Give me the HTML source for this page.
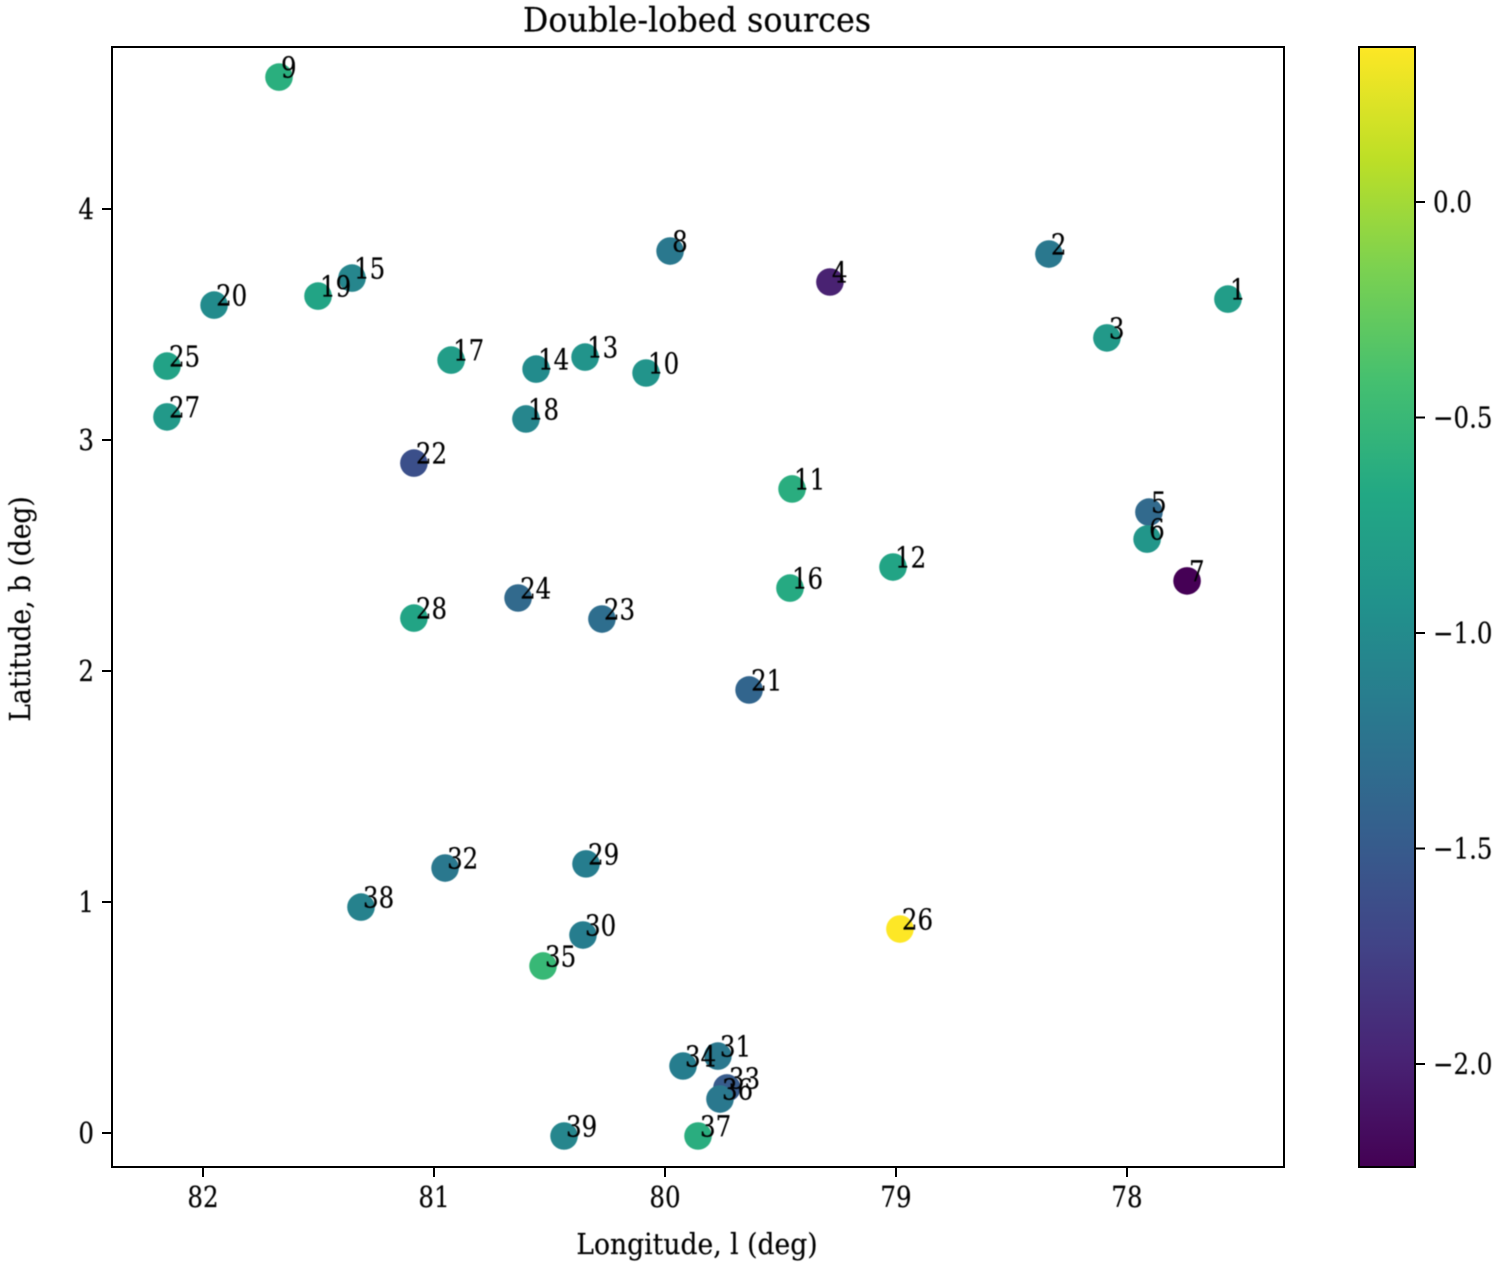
<!DOCTYPE html>
<html lang="en">
<head>
<meta charset="utf-8">
<title>Double-lobed sources</title>
<style>
html,body{margin:0;padding:0;background:#fff;}
svg{display:block;}
text{font-family:"DejaVu Serif","Liberation Serif",serif;fill:#000;stroke:#000;stroke-width:0.15;}
</style>
</head>
<body>
<svg id="chart" xmlns="http://www.w3.org/2000/svg" width="1500" height="1267" viewBox="0 0 1500 1267">
  <defs>
    <linearGradient id="viridis-gradient" x1="0" y1="1" x2="0" y2="0"></linearGradient>
    <filter id="soft" x="-5%" y="-5%" width="110%" height="110%"><feGaussianBlur stdDeviation="0.45"/></filter>
  </defs>
  <rect width="1500" height="1267" fill="#fff"/>
  <text font-size="31.8" text-anchor="middle" transform="translate(697,31.5) scale(1,1.05)" filter="url(#soft)">Double-lobed sources</text>
  <text font-size="26.6" text-anchor="middle" transform="translate(697,1254) scale(1,1.08)" filter="url(#soft)">Longitude, l (deg)</text>
  <text font-size="26.5" text-anchor="middle" transform="translate(30,609) rotate(-90) scale(1,1.08)" filter="url(#soft)">Latitude, b (deg)</text>
  <g id="marks" filter="url(#soft)"></g>
  <g id="labels" filter="url(#soft)"></g>
  <rect x="112" y="47" width="1172" height="1120" fill="none" stroke="#000" stroke-width="2"/>
  <g id="x-axis"></g>
  <g id="y-axis"></g>
  <rect x="1359" y="47" width="56" height="1120" fill="url(#viridis-gradient)" stroke="#000" stroke-width="2"/>
  <g id="colorbar-axis"></g>
</svg>
<script>
const sourceIds = [1,2,3,4,5,6,7,8,9,10,11,12,13,14,15,16,17,18,19,20,21,22,23,24,25,26,27,28,29,30,31,32,33,34,35,36,37,38,39];
const longitudes = [77.563,78.338,78.087,79.286,77.905,77.913,77.74,79.978,81.671,80.082,79.45,79.013,80.346,80.558,81.355,79.459,80.926,80.602,81.502,81.952,79.636,81.087,80.273,80.636,82.156,78.983,82.156,81.087,80.342,80.355,79.771,80.952,79.732,79.922,80.528,79.762,79.857,81.316,80.437];
const latitudes = [3.61,3.805,3.442,3.684,2.688,2.571,2.39,3.818,4.571,3.29,2.788,2.45,3.359,3.307,3.701,2.359,3.346,3.091,3.623,3.584,1.918,2.9,2.225,2.316,3.32,0.883,3.1,2.229,1.165,0.857,0.333,1.147,0.195,0.29,0.723,0.147,-0.013,0.978,-0.013];
const spectralIndex = [-0.8,-1.2,-0.85,-2.0,-1.35,-0.88,-2.24,-1.2,-0.6,-0.9,-0.62,-0.72,-0.9,-1.0,-1.05,-0.66,-0.8,-1.05,-0.72,-1.0,-1.4,-1.6,-1.3,-1.35,-0.75,0.36,-0.85,-0.72,-1.15,-1.15,-1.2,-1.2,-1.5,-1.15,-0.5,-1.2,-0.62,-1.1,-1.05];
const xTicks = [82,81,80,79,78];
const yTicks = [0,1,2,3,4];
const colorTicks = [0.0,-0.5,-1.0,-1.5,-2.0];
const colorMin = -2.239;
const colorMax = 0.36;
const viridisStops = ['#440154','#482475','#414487','#355f8d','#2a788e','#21918c','#22a884','#44bf70','#7ad151','#bddf26','#fde725'];

const NS = 'http://www.w3.org/2000/svg';
const STRETCH = ' scale(1,1.17)';
function xScale(lon){ return 203 + (82 - lon) * 231; }
function yScale(lat){ return 1133 - lat * 231; }
function cScale(v){ return 202 - v * 431; }
function hexToRgb(h){ return [1,3,5].map(i => parseInt(h.slice(i,i+2),16)); }
function colorFor(v){
  const t = Math.max(0, Math.min(1, (v - colorMin) / (colorMax - colorMin))) * (viridisStops.length - 1);
  const i = Math.min(Math.floor(t), viridisStops.length - 2);
  const a = hexToRgb(viridisStops[i]);
  const b = hexToRgb(viridisStops[i + 1]);
  const f = t - i;
  const c = a.map((p, k) => Math.round(p + (b[k] - p) * f));
  return 'rgb(' + c.join(',') + ')';
}
function make(tag, attrs, parent, txt){
  const el = document.createElementNS(NS, tag);
  for (const k in attrs) el.setAttribute(k, attrs[k]);
  if (txt !== undefined) el.textContent = txt;
  parent.appendChild(el);
  return el;
}
function at(x, y){ return 'translate(' + x + ',' + y + ')' + STRETCH; }
function minusLabel(v, digits){
  const s = Math.abs(v).toFixed(digits);
  return (v < 0 ? '\u2212' : '') + s;
}

const grad = document.getElementById('viridis-gradient');
viridisStops.forEach((c, i) => {
  make('stop', {offset: (i / (viridisStops.length - 1)), 'stop-color': c}, grad);
});

const marks = document.getElementById('marks');
const labels = document.getElementById('labels');
sourceIds.forEach((id, i) => {
  const px = xScale(longitudes[i]);
  const py = yScale(latitudes[i]);
  const dot = make('circle', {cx: px, cy: py, r: 13.8, fill: colorFor(spectralIndex[i])}, marks);
  
  
});
sourceIds.forEach((id, i) => {
  const px = xScale(longitudes[i]);
  const py = yScale(latitudes[i]);
  const lab = make('text', {'font-size': 24.5, transform: at(px + 2, py + 0.5)}, labels, String(id));
  
  
});

const xAxis = document.getElementById('x-axis');
xTicks.forEach(v => {
  const px = xScale(v);
  const tick = make('line', {x1: px, x2: px, y1: 1167, y2: 1177, stroke: '#000', 'stroke-width': 2}, xAxis);
  
  
  const lab = make('text', {'font-size': 24.5, 'text-anchor': 'middle', filter: 'url(#soft)', transform: at(px, 1207)}, xAxis, String(v));
  
  
});

const yAxis = document.getElementById('y-axis');
yTicks.forEach(v => {
  const py = yScale(v);
  const tick = make('line', {x1: 102, x2: 112, y1: py, y2: py, stroke: '#000', 'stroke-width': 2}, yAxis);
  
  
  const lab = make('text', {'font-size': 24.5, 'text-anchor': 'end', filter: 'url(#soft)', transform: at(94, py + 10)}, yAxis, String(v));
  
  
});

const cAxis = document.getElementById('colorbar-axis');
colorTicks.forEach(v => {
  const py = cScale(v);
  const tick = make('line', {x1: 1415, x2: 1425, y1: py, y2: py, stroke: '#000', 'stroke-width': 2}, cAxis);
  
  
  const lab = make('text', {'font-size': 24.5, filter: 'url(#soft)', transform: at(1433, py + 10)}, cAxis, minusLabel(v, 1));
  
  
});
</script>
</body>
</html>
